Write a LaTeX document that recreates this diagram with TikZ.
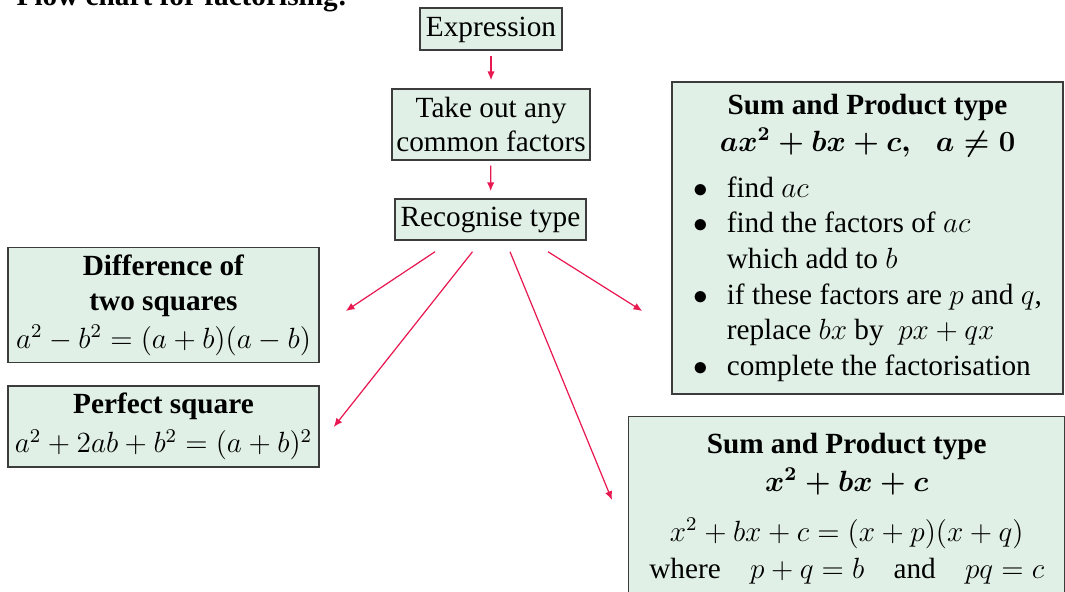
\documentclass[tikz,border=0pt]{standalone}
\usepackage{amsmath}
\usepackage[no-math]{fontspec}
\setmainfont{Liberation Serif}
\usetikzlibrary{arrows.meta}
\def\PX{0.41pt}
\definecolor{boxfill}{RGB}{224,240,230}
\definecolor{boxline}{RGB}{60,60,60}
\definecolor{arrcol}{RGB}{232,25,80}
\begin{document}
\begin{tikzpicture}[x=0.41pt,y=-0.41pt,
  every node/.style={font=\fontsize{12}{14.6}\selectfont},
  box/.style={draw=boxline, fill=boxfill, line width=0.6pt, inner sep=0pt, align=center},
  link/.style={draw=arrcol, line width=0.5pt, -{Latex[length=3.6pt,width=3pt]}}]
\useasboundingbox (0,0) rectangle (1065,591);
\clip (0,0) rectangle (1065,591);

\node[anchor=base west, font=\fontsize{12}{14.6}\selectfont\bfseries] (title) at (8,5) {Flow chart for factorising:};

\node[box, minimum width=142*\PX, minimum height=42*\PX] (expr) at (491,29) {\strut Expression};
\node[box, minimum width=198*\PX, minimum height=71*\PX] (take) at (491,124.5) {Take out any\\[-1pt]common factors};
\node[box, minimum width=191*\PX, minimum height=41*\PX] (rec) at (490.5,219.5) {\strut Recognise type};

\node[box, minimum width=311*\PX, minimum height=115*\PX] (diff) at (163.5,305)
  {\textbf{Difference of}\\[-0.3pt]\textbf{two squares}\\[1pt]$a^2-b^2=(a+b)(a-b)$};
\node[box, minimum width=311*\PX, minimum height=81*\PX] (perf) at (163.5,426.5)
  {\textbf{Perfect square}\\[1.4pt]$a^2+2ab+b^2=(a+b)^2$};

\node[box, minimum width=391*\PX, minimum height=312*\PX] (sp1) at (867.5,238)
  {\rule{0pt}{9.8pt}\textbf{Sum and Product type}\\[0.6pt]
   {\boldmath$ax^2+bx+c,\hspace{8pt}a\neq 0$}\\[4.3pt]
   \begin{tabular}[t]{@{}l@{\hspace{7.8pt}}l@{}}
   $\bullet$ & find $ac$\\
   $\bullet$ & find the factors of $ac$\\
             & which add to $b$\\
   $\bullet$ & if these factors are $p$ and $q$,\\
             & replace $bx$ by\ \ $px+qx$\\
   $\bullet$ & complete the factorisation
   \end{tabular}};

\node[box, anchor=north west, text width=436*\PX, inner ysep=6.6pt, align=flush center] (sp2) at (628,416)
  {\textbf{Sum and Product type}\\[1pt]
   {\boldmath$x^2+bx+c$}\\[5.9pt]
   $x^2+bx+c=(x+p)(x+q)$\\[0.6pt]
   where\quad$p+q=b$\quad and\quad $pq=c$};

\draw[link, shorten <=2pt, shorten >=3.3pt] (expr) -- (take);
\draw[link, shorten <=2pt, shorten >=2.9pt] (take) -- (rec);
\draw[link] ([shift={(-55.5,11)}]rec.south) -- ([shift={(26,6)}]diff.east);
\draw[link] ([shift={(-18,11)}]rec.south) -- ([shift={(14,0.5)}]perf.east);
\draw[link] ([shift={(19.5,11)}]rec.south) -- ([shift={(-16,84)}]sp2.north west);
\draw[link] ([shift={(57.5,11)}]rec.south) -- ([shift={(-29,73)}]sp1.west);
\end{tikzpicture}
\end{document}
